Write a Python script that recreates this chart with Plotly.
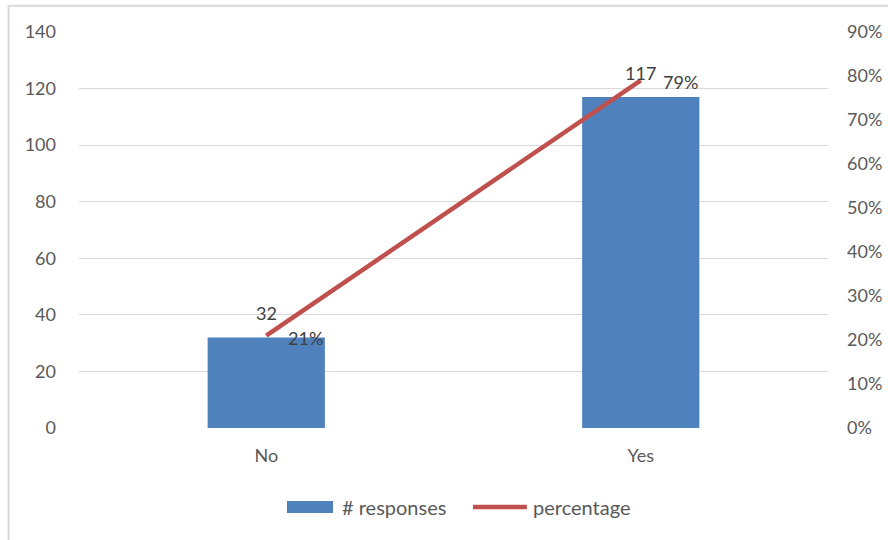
import plotly.graph_objects as go

# Survey answers
categories = ["No", "Yes"]
responses = [32, 117]
percentage = [0.21, 0.79]

# Axis ticks
left_ticks = [0, 20, 40, 60, 80, 100, 120, 140]
right_ticks = [0, 0.1, 0.2, 0.3, 0.4, 0.5, 0.6, 0.7, 0.8, 0.9]

BAR_COLOR = "#4F81BD"
LINE_COLOR = "#C0504D"
TEXT_COLOR = "#595959"
GRID_COLOR = "#D9D9D9"
FONT = "Lato, Open Sans, sans-serif"

fig = go.Figure()

fig.add_trace(go.Bar(
    x=categories, y=responses, name="# responses",
    marker=dict(color=BAR_COLOR, line=dict(width=0)),
    yaxis="y", showlegend=False,
))

fig.add_trace(go.Scatter(
    x=categories, y=percentage, name="percentage",
    mode="lines", line=dict(color=LINE_COLOR, width=4.5),
    yaxis="y2", showlegend=False,
))

annotations = []
for c, v in zip(categories, responses):
    annotations.append(dict(
        x=c, y=v, xref="x", yref="y", text=str(v), showarrow=False,
        xanchor="center", yanchor="middle", yshift=24,
        font=dict(family=FONT, size=18, color="#404040"),
    ))
for c, p in zip(categories, percentage):
    annotations.append(dict(
        x=c, y=p, xref="x", yref="y2", text=f"{p:.0%}", showarrow=False,
        xanchor="left", yanchor="middle", xshift=20, yshift=-2,
        font=dict(family=FONT, size=18, color="#404040"),
    ))

# Legend drawn below the plot: wide swatches with their labels
LEGEND_Y = -0.1995
legend_items = [
    ("# responses", 0.3485),
    ("percentage", 0.6035),
]
for label, x in legend_items:
    annotations.append(dict(
        x=x, y=LEGEND_Y, xref="paper", yref="paper", text=label,
        showarrow=False, xanchor="left", yanchor="middle",
        font=dict(family=FONT, size=20, color=TEXT_COLOR),
    ))

shapes = [
    # chart frame
    dict(type="rect", xref="paper", yref="paper",
         x0=-0.094, x1=1.1, y0=-0.32, y1=1.066,
         line=dict(color=GRID_COLOR, width=2), layer="below"),
    # legend swatch: bars
    dict(type="rect", xref="paper", yref="paper",
         x0=0.2777, x1=0.3391, y0=-0.2146, y1=-0.1843,
         fillcolor=BAR_COLOR, line=dict(width=0)),
    # legend swatch: line
    dict(type="line", xref="paper", yref="paper",
         x0=0.526, x1=0.598, y0=LEGEND_Y, y1=LEGEND_Y,
         line=dict(color=LINE_COLOR, width=4.5)),
]

fig.update_layout(
    width=888, height=540,
    margin=dict(l=79, r=60, t=32, b=112),
    paper_bgcolor="white", plot_bgcolor="white",
    font=dict(family=FONT, size=18, color=TEXT_COLOR),
    bargap=0.687,
    showlegend=False,
    xaxis=dict(
        showgrid=False, zeroline=False, showline=False, ticks="",
        automargin=False, ticklabelstandoff=15,
        tickfont=dict(family=FONT, size=18, color=TEXT_COLOR),
    ),
    yaxis=dict(
        range=[0, 140], tickvals=left_ticks, showgrid=True,
        gridcolor=GRID_COLOR, gridwidth=1, zeroline=False, showline=False,
        ticks="", ticklabelstandoff=22, automargin=False,
        tickfont=dict(family=FONT, size=18, color=TEXT_COLOR),
    ),
    yaxis2=dict(
        range=[0, 0.9], tickvals=right_ticks, tickformat=".0%",
        overlaying="y", side="right", showgrid=False, zeroline=False,
        showline=False, ticks="", ticklabelstandoff=18, automargin=False,
        tickfont=dict(family=FONT, size=18, color=TEXT_COLOR),
    ),
    annotations=annotations,
    shapes=shapes,
)

fig.write_html("out.html")
